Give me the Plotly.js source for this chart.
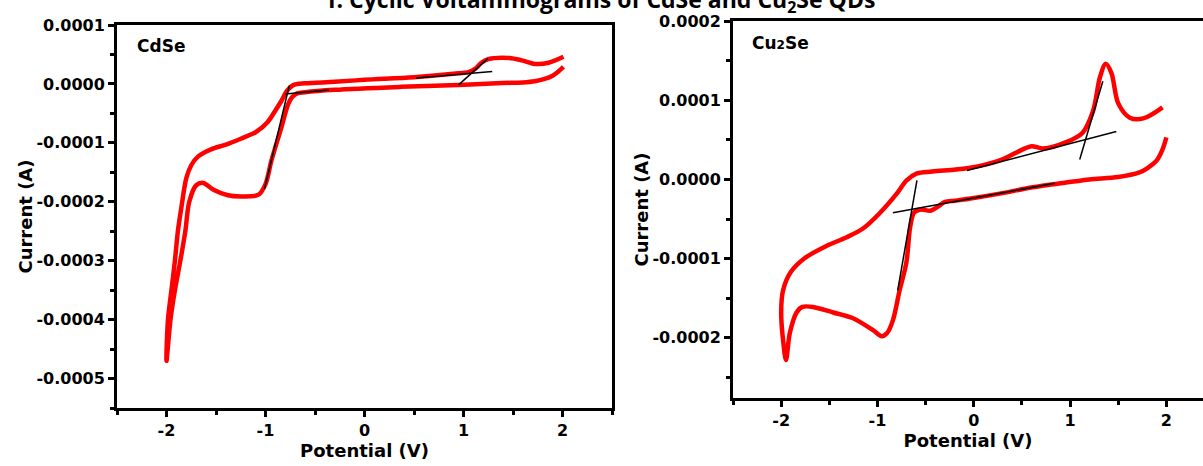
<!DOCTYPE html>
<html>
<head>
<meta charset="utf-8">
<script src="https://cdn.plot.ly/plotly-3.0.1.min.js"></script>
<style>html,body{margin:0;padding:0;background:#fff;}#chart{width:1203px;height:466px;}</style>
</head>
<body>
<div id="chart"></div>
<script>
// ---- CdSe cyclic voltammogram (forward branch then return branch) ----
const cdsePotential = [
  2.01, 1.95, 1.90, 1.82, 1.72, 1.60, 1.39, 0.95, 0.37, -0.30, -0.60, -0.68,
  -0.73, -0.77, -0.84, -0.94, -1.00, -1.07, -1.25, -1.38, -1.52, -1.63, -1.70,
  -1.77, -1.81, -1.86, -1.915, -1.96, -2.00,
  -1.985, -1.95, -1.915, -1.885, -1.85, -1.80, -1.75, -1.68, -1.55, -1.40, -1.25, -1.10,
  -0.98, -0.90, -0.84, -0.78, -0.72, -0.60, -0.30, 0.00, 0.50, 0.95, 1.05,
  1.12, 1.18, 1.25, 1.46, 1.59, 1.72, 1.86, 2.01
];
const cdseCurrent = [
  0.0000290, 0.0000200, 0.0000140, 0.0000085, 0.0000045, 0.0000025, 0.0000015, -0.0000017, -0.0000050, -0.0000100, -0.0000140, -0.0000160,
  -0.0000220, -0.0000340, -0.0000740, -0.0001300, -0.0001700, -0.0001880, -0.0001910, -0.0001890, -0.0001800, -0.0001680, -0.0001720,
  -0.0002000, -0.0002500, -0.0003000, -0.0003500, -0.0004000, -0.0004700,
  -0.0004000, -0.0003500, -0.0003000, -0.0002500, -0.0002100, -0.0001600, -0.0001380, -0.0001230, -0.0001110, -0.0001030, -0.0000930, -0.0000820,
  -0.0000650, -0.0000450, -0.0000290, -0.0000110, -0.0000020, 0.0000010, 0.0000035, 0.0000070, 0.0000115, 0.0000180, 0.0000200,
  0.0000260, 0.0000360, 0.0000420, 0.0000440, 0.0000400, 0.0000340, 0.0000360, 0.0000460
];
// tangent (onset) lines drawn on the CdSe curve
const cdseTan1X = [-1.01, -0.76];   const cdseTan1Y = [-0.000178, -0.000003];
const cdseTan2X = [-0.80, -0.36];   const cdseTan2Y = [-0.0000170, -0.0000105];
const cdseTan3X = [0.52, 1.29];     const cdseTan3Y = [0.0000100, 0.0000212];
const cdseTan4X = [0.95, 1.245];    const cdseTan4Y = [-0.0000017, 0.0000430];

// ---- Cu2Se cyclic voltammogram ----
const cuPotential = [
  2.00, 1.96, 1.90, 1.80, 1.72, 1.50, 1.20, 0.96, 0.61, 0.27, -0.05, -0.20,
  -0.30, -0.38, -0.45, -0.55, -0.62, -0.66, -0.70, -0.77, -0.84, -0.90, -0.955,
  -1.05, -1.26, -1.46, -1.67, -1.78, -1.84, -1.91, -1.95,
  -1.98, -2.00, -1.98, -1.90, -1.75, -1.53, -1.32, -1.15, -0.98, -0.80, -0.70,
  -0.59, -0.43, -0.07, 0.27, 0.51, 0.60, 0.72, 0.96, 1.13, 1.24, 1.31, 1.37,
  1.43, 1.50, 1.62, 1.76, 1.96
];
const cuCurrent = [
  0.0000530, 0.0000380, 0.0000240, 0.0000140, 0.0000088, 0.0000030, 0.0000000, -0.0000040, -0.0000100, -0.0000180, -0.0000245, -0.0000270,
  -0.0000285, -0.0000350, -0.0000395, -0.0000380, -0.0000420, -0.0000600, -0.0001050, -0.0001400, -0.0001780, -0.0001940, -0.0001980,
  -0.0001900, -0.0001750, -0.0001680, -0.0001610, -0.0001610, -0.0001680, -0.0001940, -0.0002280,
  -0.0002030, -0.0001680, -0.0001400, -0.0001170, -0.0000990, -0.0000840, -0.0000730, -0.0000620, -0.0000430, -0.0000180, -0.0000015,
  0.0000076, 0.0000100, 0.0000140, 0.0000240, 0.0000380, 0.0000420, 0.0000390, 0.0000470, 0.0000590, 0.0000870, 0.0001290, 0.0001460,
  0.0001340, 0.0000960, 0.0000780, 0.0000770, 0.0000910
];
const cuTan1X = [-0.84, 0.84];   const cuTan1Y = [-0.0000420, -0.0000050];
const cuTan2X = [-0.59, -0.79];  const cuTan2Y = [-0.0000013, -0.0001400];
const cuTan3X = [-0.07, 1.48];   const cuTan3Y = [0.0000113, 0.0000605];
const cuTan4X = [1.10, 1.34];    const cuTan4Y = [0.0000252, 0.0001240];

// ---- tick labels ----
const xTickVals = [-2, -1, 0, 1, 2];
const xTickText = ['-2', '-1', '0', '1', '2'];
const cdseYTickVals = [-0.0005, -0.0004, -0.0003, -0.0002, -0.0001, 0, 0.0001];
const cdseYTickText = ['-0.0005', '-0.0004', '-0.0003', '-0.0002', '-0.0001', '0.0000', '0.0001'];
const cuYTickVals = [-0.0002, -0.0001, 0, 0.0001, 0.0002];
const cuYTickText = ['-0.0002', '-0.0001', '0.0000', '0.0001', '0.0002'];

const RED = '#ff0000';
const FONT = 'DejaVu Sans, Liberation Sans, Arial, sans-serif';

function curve(x, y, xa, ya) {
  return {x: x, y: y, xaxis: xa, yaxis: ya, type: 'scatter', mode: 'lines',
          line: {color: RED, width: 4.5, shape: 'spline', smoothing: 0.9}, hoverinfo: 'skip'};
}
function tangent(x, y, xa, ya) {
  return {x: x, y: y, xaxis: xa, yaxis: ya, type: 'scatter', mode: 'lines',
          line: {color: '#000000', width: 1.5}, hoverinfo: 'skip'};
}

const data = [
  curve(cdsePotential, cdseCurrent, 'x', 'y'),
  tangent(cdseTan1X, cdseTan1Y, 'x', 'y'),
  tangent(cdseTan2X, cdseTan2Y, 'x', 'y'),
  tangent(cdseTan3X, cdseTan3Y, 'x', 'y'),
  tangent(cdseTan4X, cdseTan4Y, 'x', 'y'),
  curve(cuPotential, cuCurrent, 'x2', 'y2'),
  tangent(cuTan1X, cuTan1Y, 'x2', 'y2'),
  tangent(cuTan2X, cuTan2Y, 'x2', 'y2'),
  tangent(cuTan3X, cuTan3Y, 'x2', 'y2'),
  tangent(cuTan4X, cuTan4Y, 'x2', 'y2')
];

const tickFont = {family: FONT, size: 16, color: '#000', weight: 'bold'};
const titleFont = {family: FONT, size: 18, color: '#000', weight: 'bold'};

function xAxis(domain, range, anchor, mirror, standoff) {
  return {
    domain: domain, range: range, anchor: anchor, showline: true, linewidth: 3, linecolor: '#000',
    mirror: mirror, ticks: 'outside', ticklen: 6, tickwidth: 3, tickcolor: '#000',
    tickmode: 'array', tickvals: xTickVals, ticktext: xTickText, tickfont: tickFont,
    minor: {ticks: 'outside', ticklen: 4, tickwidth: 3, tickcolor: '#000', tickmode: 'linear', tick0: 0, dtick: 0.5, showgrid: false},
    showgrid: false, zeroline: false, fixedrange: true,
    title: {text: 'Potential (V)', font: titleFont, standoff: standoff}
  };
}
function yAxis(domain, range, anchor, vals, text, mirror) {
  return {
    domain: domain, range: range, anchor: anchor, showline: true, linewidth: 3, linecolor: '#000',
    mirror: mirror, ticks: 'outside', ticklen: 6, tickwidth: 3, tickcolor: '#000',
    tickmode: 'array', tickvals: vals, ticktext: text, tickfont: tickFont,
    minor: {ticks: 'outside', ticklen: 4, tickwidth: 3, tickcolor: '#000', tickmode: 'linear', tick0: 0, dtick: 0.00005, showgrid: false},
    showgrid: false, zeroline: false, fixedrange: true,
    title: {text: 'Current (A)', font: titleFont, standoff: 0}
  };
}

const layout = {
  width: 1203, height: 466, autosize: false,
  margin: {l: 0, r: 0, t: 0, b: 0, pad: 0},
  paper_bgcolor: '#fff', plot_bgcolor: '#fff', showlegend: false,
  title: {text: 'f: Cyclic Voltammograms of CdSe and Cu<sub>2</sub>Se QDs',
          font: {family: 'Open Sans, sans-serif', size: 23, color: '#000', weight: 'bold'},
          x: 0.5, xref: 'container', xanchor: 'center', y: 1, yref: 'container', yanchor: 'middle'},
  xaxis: xAxis([117/1203, 612/1203], [-2.5, 2.5], 'y', true, 5),
  yaxis: yAxis([1 - 408/466, 1 - 25/466], [-0.00055, 0.0001], 'x', cdseYTickVals, cdseYTickText, true),
  xaxis2: xAxis([733/1203, 1], [-2.5, 2.38], 'y2', true, 2),
  yaxis2: yAxis([1 - 398/466, 1 - 21/466], [-0.000276, 0.0002], 'x2', cuYTickVals, cuYTickText, false),
  annotations: [
    {text: 'CdSe', xref: 'x domain', yref: 'y domain', x: 0.036, y: 0.945, xanchor: 'left', yanchor: 'middle',
     showarrow: false, font: {family: FONT, size: 17, color: '#000', weight: 'bold'}},
    {text: 'Cu<span style="font-size:12px">2</span>Se', xref: 'x2 domain', yref: 'y2 domain', x: 0.036, y: 0.942,
     xanchor: 'left', yanchor: 'middle', showarrow: false, font: {family: FONT, size: 17, color: '#000', weight: 'bold'}}
  ]
};

Plotly.newPlot('chart', data, layout, {displayModeBar: false, staticPlot: true});
</script>
</body>
</html>
